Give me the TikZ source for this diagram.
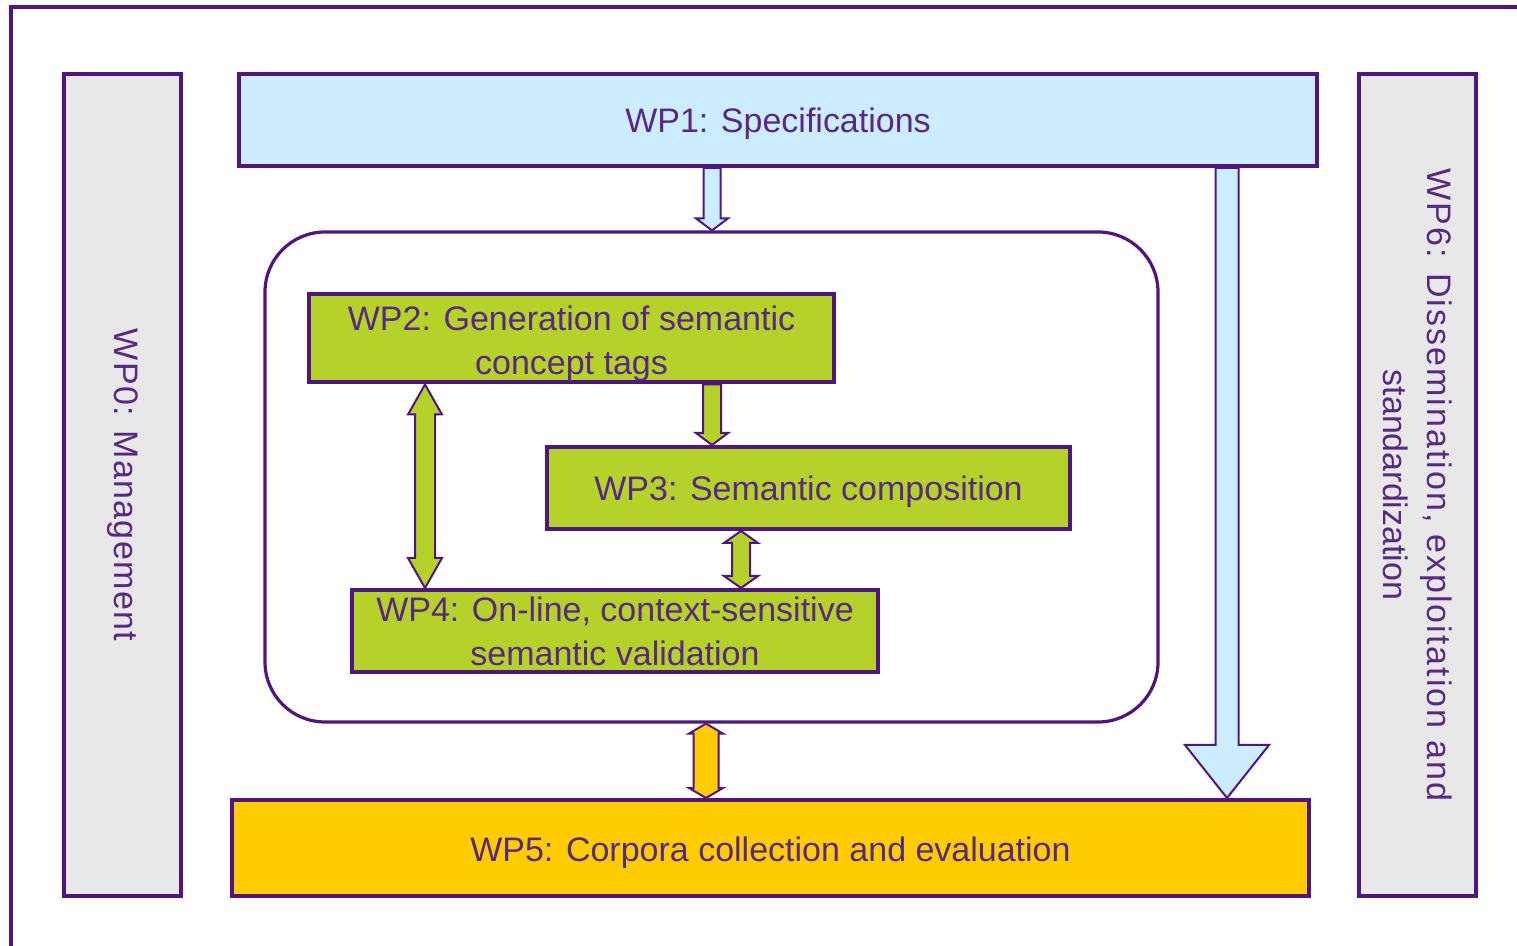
\documentclass[tikz,border=0pt]{standalone}
\usepackage{fontspec}
\setmainfont{Liberation Sans}
\usetikzlibrary{calc}
\definecolor{pur}{RGB}{80,22,128}
\definecolor{txt}{RGB}{88,40,130}
\definecolor{lblue}{RGB}{204,236,255}
\definecolor{lgreen}{RGB}{181,210,42}
\definecolor{yel}{RGB}{255,204,0}
\definecolor{lgray}{RGB}{232,232,232}
% single downward block arrow: #1 start, #2 end, #3 half shaft, #4 half head, #5 head length, #6 fill
\newcommand{\blkdown}[6]{%
\path[draw=pur, line width=1pt, fill=#6, line join=miter] let \p1=(#1), \p2=(#2) in
 (\x1-#3,\y1) -- (\x1-#3,\y2+#5) -- (\x1-#4,\y2+#5) -- (\x1,\y2) -- (\x1+#4,\y2+#5) -- (\x1+#3,\y2+#5) -- (\x1+#3,\y1) -- cycle;}
% double block arrow
\newcommand{\blkboth}[6]{%
\path[draw=pur, line width=1pt, fill=#6, line join=miter] let \p1=(#1), \p2=(#2) in
 (\x1,\y1) -- (\x1+#4,\y1-#5) -- (\x1+#3,\y1-#5) -- (\x1+#3,\y2+#5) -- (\x1+#4,\y2+#5) -- (\x1,\y2)
 -- (\x1-#4,\y2+#5) -- (\x1-#3,\y2+#5) -- (\x1-#3,\y1-#5) -- (\x1-#4,\y1-#5) -- cycle;}
\newcommand{\lowtext}[2][2pt]{\raisebox{-#1}[\height][\depth]{#2}}
\tikzset{
  wpbox/.style={draw=pur, line width=2pt, rectangle, inner sep=0pt, text=txt, align=center,
    font=\fontsize{17pt}{22pt}\selectfont},
  frameline/.style={draw=pur, line width=2pt},
}
\begin{document}
\begin{tikzpicture}[x=0.5pt, y=-0.5pt]
\useasboundingbox (0,0) rectangle (1517,946);
% outer frame
\coordinate (fbl) at (11,950);
\coordinate (ftl) at (11,7);
\coordinate (ftr) at (1521,7);
\draw[frameline] (fbl) -- (ftl) -- (ftr);

% side boxes
\node[wpbox, fill=lgray, rotate=-90, minimum width=411pt, minimum height=58.5pt] (wp0) at (122.5,485) {\addfontfeature{LetterSpace=4}WP0: Management};
\node[wpbox, fill=lgray, rotate=-90, minimum width=411pt, minimum height=58.5pt] (wp6) at (1417.5,485) {\addfontfeature{LetterSpace=6}WP6: Dissemination, exploitation and\\standardization};

% main boxes
\node[wpbox, fill=lblue, minimum width=539pt, minimum height=46pt] (wp1) at (778,120) {\lowtext{WP1: Specifications}};
\node[wpbox, fill=yel, minimum width=538.5pt, minimum height=48pt] (wp5) at (770.5,848) {\lowtext[2.5pt]{WP5: Corpora collection and evaluation}};
\node[draw=pur, line width=1.6pt, rounded corners=30pt, minimum width=446.5pt, minimum height=245pt, inner sep=0pt] (core) at (711.5,477) {};
\node[wpbox, fill=lgreen, minimum width=262.5pt, minimum height=43.5pt] (wp2) at (571.5,338.5) {\lowtext[2.5pt]{\begin{tabular}{@{}c@{}}WP2: Generation of semantic\\concept tags\end{tabular}}};
\node[wpbox, fill=lgreen, minimum width=261.5pt, minimum height=41pt] (wp3) at (808.5,488) {\lowtext{WP3: Semantic composition}};
\node[wpbox, fill=lgreen, minimum width=263pt, minimum height=41pt] (wp4) at (615,631) {WP4: On-line, context-sensitive\\semantic validation};

% arrow axes
\coordinate (xa) at (712,0);
\coordinate (xb) at (1227,0);
\coordinate (xc) at (425,0);
\coordinate (xd) at (741,0);
\coordinate (xe) at (706,0);

% arrows
\blkdown{xa |- wp1.south}{xa |- core.north}{4.25pt}{8pt}{6pt}{lblue}
\blkdown{xb |- wp1.south}{xb |- wp5.north}{5.75pt}{21pt}{26.5pt}{lblue}
\blkdown{xa |- wp2.south}{xa |- wp3.north}{4.5pt}{8pt}{6pt}{lgreen}
\blkboth{xc |- wp2.south}{xc |- wp4.north}{5pt}{8.5pt}{15pt}{lgreen}
\blkboth{xd |- wp3.south}{xd |- wp4.north}{4.5pt}{8.5pt}{6pt}{lgreen}
\blkboth{xe |- core.south}{xe |- wp5.north}{6.25pt}{8.5pt}{5pt}{yel}
\end{tikzpicture}
\end{document}
